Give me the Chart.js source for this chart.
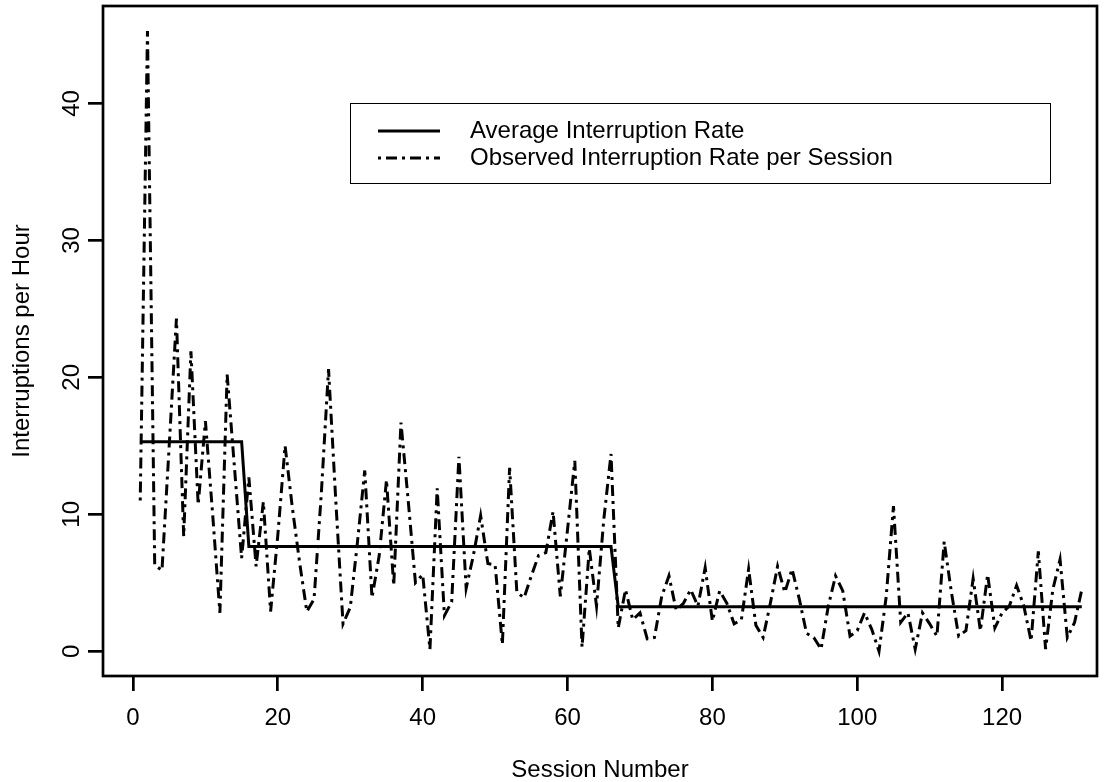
<!DOCTYPE html>
<html>
<head>
<meta charset="utf-8">
<script src="https://cdn.jsdelivr.net/npm/chart.js@4.4.0/dist/chart.umd.min.js"></script>
<style>
  html, body { margin: 0; padding: 0; background: #fff; }
  #chart { display: block; }
</style>
</head>
<body>
<canvas id="chart" width="1114" height="782"></canvas>
<script>
// observed interruptions per hour, session 1..131
const observedRate = [
  11.0, 45.3, 6.3, 5.9, 15.0, 24.3, 8.4, 21.9, 10.7, 16.8,
  10.0, 2.8, 20.2, 13.5, 6.8, 12.7, 6.2, 10.9, 2.9, 8.5,
  15.0, 10.5, 6.5, 2.9, 3.8, 11.5, 20.6, 11.0, 2.0, 3.2,
  8.0, 13.2, 3.9, 7.0, 12.5, 4.8, 16.7, 11.0, 5.0, 5.6,
  0.15, 11.9, 2.6, 3.6, 14.2, 4.6, 7.0, 9.9, 6.4, 6.3,
  0.5, 13.4, 4.3, 3.9, 5.5, 7.0, 7.2, 10.2, 4.0, 8.9,
  13.9, 0.3, 7.5, 3.3, 9.6, 14.4, 1.7, 4.5, 2.3, 2.8,
  0.9, 1.0, 4.0, 5.5, 3.0, 3.5, 4.5, 3.3, 6.1, 2.2,
  4.4, 3.5, 2.0, 2.3, 6.0, 1.9, 1.0, 3.5, 6.2, 4.3,
  6.0, 3.8, 1.3, 1.0, 0.15, 3.3, 5.5, 4.4, 1.1, 1.5,
  2.8, 1.6, 0.0, 4.0, 10.6, 2.1, 2.8, 0.15, 2.8, 2.0,
  1.1, 8.0, 4.3, 1.1, 1.5, 5.3, 1.5, 5.6, 1.7, 2.8,
  3.3, 4.8, 3.3, 0.75, 7.3, 0.15, 4.5, 6.7, 1.0, 2.1,
  4.5
];
// average rate: phase start / end sessions and level
const avgStart = [1, 16, 67];
const avgEnd = [15, 66, 131];
const avgLevel = [15.3, 7.65, 3.25];

const xTicks = [0, 20, 40, 60, 80, 100, 120];
const yTicks = [0, 10, 20, 30, 40];

const seriesNames = ['Average Interruption Rate', 'Observed Interruption Rate per Session'];
const xTitle = 'Session Number';
const yTitle = 'Interruptions per Hour';

const FONT = '"Liberation Sans", Arial, Helvetica, sans-serif';
const DASH = [3, 5, 11, 5];

var obsPts = observedRate.map(function(v, i){ return {x: i + 1, y: v}; });
var avgPts = [];
for (var k = 0; k < avgLevel.length; k++) {
  avgPts.push({x: avgStart[k], y: avgLevel[k]});
  avgPts.push({x: avgEnd[k], y: avgLevel[k]});
}

// R-style frame, tick labels, titles and legend
const rStyle = {
  id: 'rStyle',
  afterDraw(chart) {
    const ctx = chart.ctx;
    const a = chart.chartArea;
    const xs = chart.scales.x, ys = chart.scales.y;
    ctx.save();
    ctx.strokeStyle = '#000';
    ctx.lineWidth = 2.7;
    ctx.strokeRect(a.left, a.top, a.right - a.left, a.bottom - a.top);

    ctx.fillStyle = '#000';
    ctx.font = '24px ' + FONT;
    ctx.textAlign = 'center';
    ctx.textBaseline = 'middle';
    xTicks.forEach(function(v){
      ctx.fillText(String(v), xs.getPixelForValue(v), 718);
    });
    ctx.fillText(xTitle, (a.left + a.right) / 2, 770);

    yTicks.forEach(function(v){
      ctx.save();
      ctx.translate(72, ys.getPixelForValue(v));
      ctx.rotate(-Math.PI / 2);
      ctx.fillText(String(v), 0, 0);
      ctx.restore();
    });
    ctx.save();
    ctx.translate(22, (a.top + a.bottom) / 2);
    ctx.rotate(-Math.PI / 2);
    ctx.fillText(yTitle, 0, 0);
    ctx.restore();

    // legend
    ctx.lineWidth = 1;
    ctx.strokeRect(350.5, 103.5, 700, 80);
    var rows = [131, 158];
    chart.data.datasets.forEach(function(ds, i){
      ctx.beginPath();
      ctx.lineWidth = ds.borderWidth;
      ctx.setLineDash(ds.borderDash || []);
      ctx.moveTo(378, rows[i]);
      ctx.lineTo(440, rows[i]);
      ctx.stroke();
      ctx.setLineDash([]);
      ctx.textAlign = 'left';
      ctx.fillText(ds.label, 470, rows[i]);
    });
    ctx.restore();
  }
};

new Chart(document.getElementById('chart'), {
  type: 'line',
  data: {
    datasets: [
      {
        label: seriesNames[0],
        data: avgPts,
        borderColor: '#000',
        borderWidth: 3,
        pointRadius: 0,
        tension: 0
      },
      {
        label: seriesNames[1],
        data: obsPts,
        borderColor: '#000',
        borderWidth: 3,
        borderDash: DASH,
        pointRadius: 0,
        tension: 0
      }
    ]
  },
  options: {
    responsive: false,
    animation: false,
    devicePixelRatio: 1,
    layout: { padding: { top: 6, right: 17, left: 0, bottom: 0 } },
    plugins: { legend: { display: false }, tooltip: { enabled: false } },
    scales: {
      x: {
        type: 'linear',
        min: -4.14,
        max: 133.1,
        afterBuildTicks: function(s){ s.ticks = xTicks.map(function(v){ return {value: v}; }); },
        afterFit: function(s){ s.height = 106; },
        ticks: { display: false },
        grid: { drawOnChartArea: false, drawTicks: true, tickLength: 15, color: '#000', lineWidth: 2.7 },
        border: { display: false }
      },
      y: {
        type: 'linear',
        min: -1.81,
        max: 47.12,
        afterBuildTicks: function(s){ s.ticks = yTicks.map(function(v){ return {value: v}; }); },
        afterFit: function(s){ s.width = 103; },
        ticks: { display: false },
        grid: { drawOnChartArea: false, drawTicks: true, tickLength: 15, color: '#000', lineWidth: 2.7 },
        border: { display: false }
      }
    }
  },
  plugins: [rStyle]
});
</script>
</body>
</html>
